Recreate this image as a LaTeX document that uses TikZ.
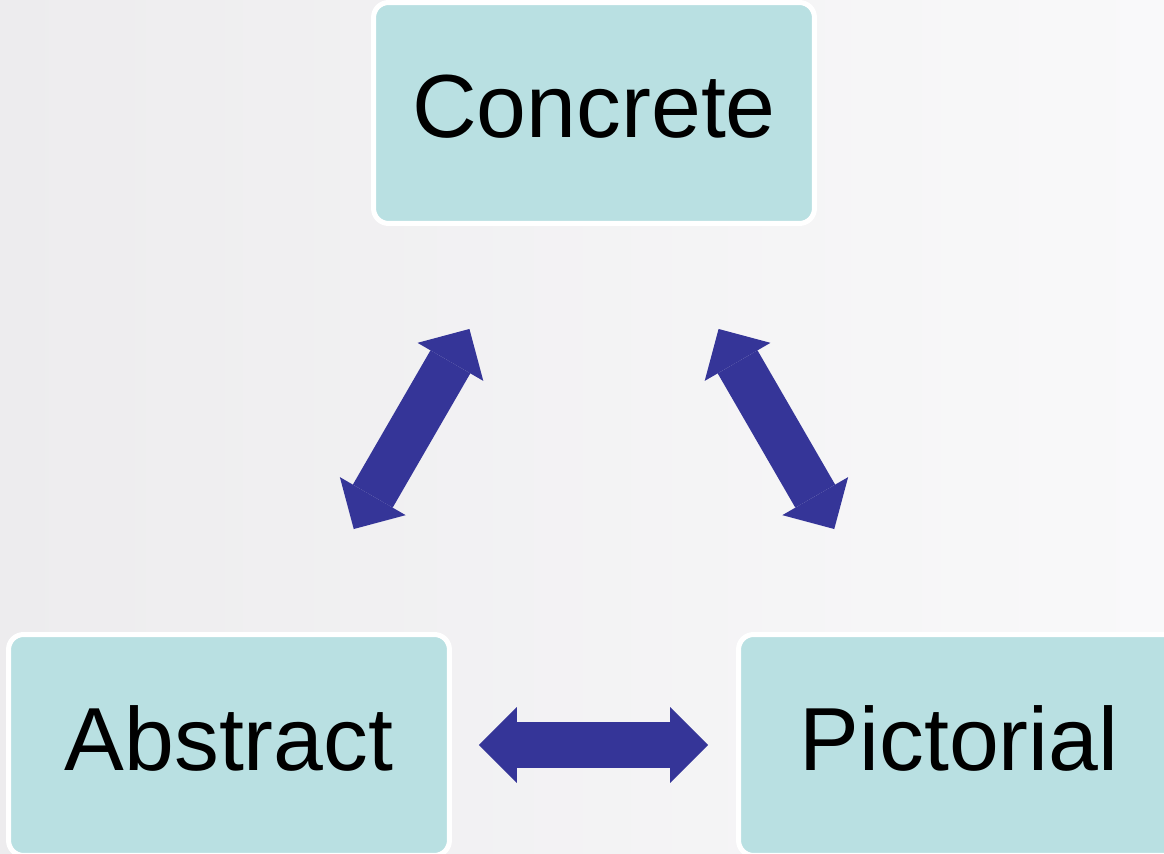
\documentclass[tikz,border=0pt]{standalone}
\usepackage{fontspec}
\setmainfont{Liberation Sans}
\usetikzlibrary{arrows.meta}
\definecolor{boxfill}{RGB}{185,224,226}
\definecolor{arrowblue}{RGB}{53,53,152}
\definecolor{bgleft}{RGB}{237,236,238}
\definecolor{bgright}{RGB}{249,249,250}
\tikzset{
  stage/.style={rectangle, rounded corners=0.3cm, fill=boxfill, draw=white,
    line width=0.1cm, minimum width=8.82cm, minimum height=4.42cm,
    text depth=0.26cm, font=\fontsize{51}{58}\selectfont},
  blockhead/.tip={Triangle[length=0.76cm, width=1.52cm, line width=0pt]},
  twoway/.style={draw=arrowblue, line width=0.92cm, blockhead-blockhead},
}
\begin{document}
\begin{tikzpicture}[x=0.02cm, y=0.02cm]
  \clip (0,0) rectangle (1164,853);
  \shade[left color=bgleft, right color=bgright] (0,0) rectangle (1164,853);
  % the three stages
  \node[stage] (con) at (594,740) {Concrete};
  \node[stage] (abs) at (229,108) {Abstract};
  \node[stage] (pic) at (959,108) {Pictorial};
  % two-way block arrows between them
  \draw[twoway, shorten <=2.38cm, shorten >=2.38cm] (con) -- (abs);
  \draw[twoway, shorten <=2.38cm, shorten >=2.38cm] (con) -- (pic);
  \draw[twoway, shorten <=0.54cm, shorten >=0.56cm] (abs) -- (pic);
\end{tikzpicture}
\end{document}
